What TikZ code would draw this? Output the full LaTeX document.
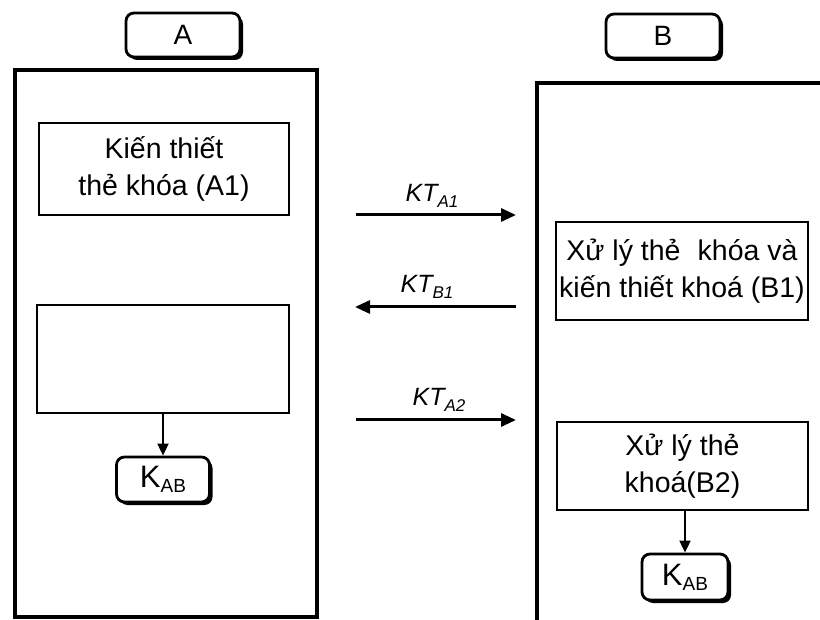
\documentclass[tikz,border=0pt]{standalone}
\usepackage{fontspec}
\setmainfont{Liberation Sans}
\usetikzlibrary{arrows.meta,shadows}
\begin{document}
\begin{tikzpicture}[x=1pt,y=-1pt,
  frame/.style={draw=black,line width=3.4pt},
  procbox/.style={draw=black,line width=2.8pt,inner sep=0pt,align=center,
    font=\fontsize{28.5}{37}\selectfont},
  tagbox/.style={draw=black,line width=2.8pt,rounded corners=8pt,inner sep=0pt,
    fill=white,drop shadow={shadow xshift=3pt,shadow yshift=-3pt,fill=black,opacity=1},
    font=\fontsize{28}{28}\selectfont},
  keybox/.style={tagbox,font=\fontsize{31}{31}\selectfont},
  msg/.style={line width=3pt,-{Triangle[length=15pt,width=13pt]}},
  down/.style={line width=1.8pt,-{Triangle[length=12pt,width=11pt]}},
  msglabel/.style={font=\fontsize{25}{25}\selectfont\itshape}
]
\useasboundingbox (0,0) rectangle (820,620);
\fill[white] (0,0) rectangle (820,620);

% party headers
\node[tagbox,minimum width=114,minimum height=44] (labA) at (183,35) {A};
\node[tagbox,minimum width=114,minimum height=44] (labB) at (663,36) {B};

% frame of party A
\node[frame,minimum width=302,minimum height=547,inner sep=0pt] (frameA) at (166,343.5) {};
% frame of party B (runs off the right and bottom)
\coordinate (fBbot) at (537,622);
\coordinate (fBtop) at (537,83);
\coordinate (fBright) at (822,83);
\draw[line width=3.4pt] (fBbot) -- (fBtop) -- (fBright);

% steps of A
\node[procbox,minimum width=250,minimum height=92] (a1) at (164,169)
  {Kiến thiết\\thẻ khóa (A1)};
\node[procbox,minimum width=252,minimum height=108] (a2) at (163,359) {};
\node[keybox,minimum width=93,minimum height=45] (kA) at (163,479.5)
  {K\raisebox{-5pt}{\fontsize{19}{19}\selectfont AB}};
\draw[down] (a2.south) -- (kA.north);

% steps of B
\node[procbox,minimum width=252,minimum height=98] (b1) at (682,271)
  {Xử lý thẻ\hspace{0.6em}khóa và\\kiến thiết khoá (B1)};
\node[procbox,minimum width=251,minimum height=88] (b2) at (682.5,466)
  {Xử lý thẻ\\khoá(B2)};
\node[keybox,minimum width=86,minimum height=46] (kB) at (685,577)
  {K\raisebox{-5pt}{\fontsize{19}{19}\selectfont AB}};
\draw[down] (kB.north |- b2.south) -- (kB.north);

% exchanged messages
\coordinate (m1s) at (356,215); \coordinate (m1e) at (516,215);
\coordinate (m2s) at (516,307); \coordinate (m2e) at (355,307);
\coordinate (m3s) at (356,420); \coordinate (m3e) at (516,420);
\draw[msg] (m1s) -- (m1e);
\draw[msg] (m2s) -- (m2e);
\draw[msg] (m3s) -- (m3e);
\node[msglabel] (l1) at (432,196) {KT\raisebox{-6pt}{\fontsize{17}{17}\selectfont A1}};
\node[msglabel] (l2) at (427,287) {KT\raisebox{-6pt}{\fontsize{17}{17}\selectfont B1}};
\node[msglabel] (l3) at (439,400) {KT\raisebox{-6pt}{\fontsize{17}{17}\selectfont A2}};
\end{tikzpicture}
\end{document}
